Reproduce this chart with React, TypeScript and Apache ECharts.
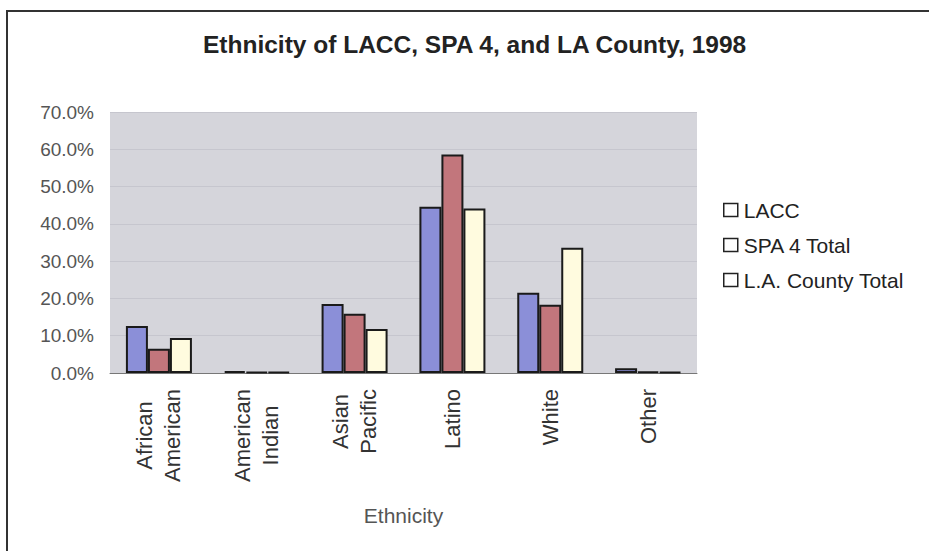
import React, { useEffect, useRef } from "react";
import * as echarts from "echarts";

const categories = ["African\nAmerican", "American\nIndian", "Asian\nPacific", "Latino", "White", "Other"];
const seriesNames = ["LACC", "SPA 4 Total", "L.A. County Total"];
const lacc = [12.6, 0.5, 18.5, 44.6, 21.5, 1.3];
const spa4 = [6.5, 0.3, 15.9, 58.6, 18.3, 0.4];
const laCounty = [9.4, 0.3, 11.8, 44.1, 33.6, 0.3];
const yTicks = { min: 0, max: 70, interval: 10 };

const colors = ["#8b8fd8", "#c2767c", "#fffbdf"];

export default function App() {
  const ref = useRef<HTMLDivElement>(null);
  useEffect(() => {
    if (!ref.current) return;
    const chart = echarts.init(ref.current, null, { renderer: "svg" });
    const font = "'Liberation Sans', Arial, sans-serif";
    const data = [lacc, spa4, laCounty];
    chart.setOption({
      animation: false,
      backgroundColor: "#ffffff",
      textStyle: { fontFamily: font },
      title: {
        text: "Ethnicity of LACC, SPA 4, and LA County, 1998",
        left: 198,
        top: 27,
        textStyle: { fontFamily: font, fontSize: 24.5, fontWeight: "bold", color: "#222" },
      },
      legend: {
        orient: "vertical",
        left: 718,
        top: 194,
        itemWidth: 14,
        itemHeight: 13,
        itemGap: 13,
        icon: "rect",
        textStyle: { fontFamily: font, fontSize: 21, color: "#222", lineHeight: 22, padding: [0, 0, 0, 1] },
        data: seriesNames.map((n) => ({
          name: n,
          itemStyle: { color: "#ffffff", borderColor: "#222", borderWidth: 1.5 },
        })),
      },
      grid: {
        left: 110,
        right: 232,
        top: 112,
        bottom: 178,
        show: true,
        backgroundColor: "#d5d5db",
        borderWidth: 0,
      },
      xAxis: {
        type: "category",
        data: categories,
        name: "Ethnicity",
        nameLocation: "middle",
        nameGap: 132,
        nameTextStyle: { fontFamily: font, fontSize: 21, color: "#555" },
        axisLine: { lineStyle: { color: "#777", width: 1 } },
        axisTick: { show: false },
        axisLabel: {
          rotate: 90,
          margin: 16,
          interval: 0,
          formatter: (v: string) => v.split("\n").map((s) => "{c|" + s + "}").join("\n"),
          rich: {
            c: { align: "center", fontFamily: font, fontSize: 22, lineHeight: 28, color: "#333" },
          },
        },
      },
      yAxis: {
        type: "value",
        min: yTicks.min,
        max: yTicks.max,
        interval: yTicks.interval,
        axisLine: { show: false },
        axisTick: { show: false },
        splitLine: { lineStyle: { color: "#c6c6ce", width: 1 } },
        axisLabel: {
          margin: 16,
          fontFamily: font,
          fontSize: 19,
          color: "#555",
          formatter: (v: number) => v.toFixed(1) + "%",
        },
      },
      graphic: [
        { type: "line", shape: { x1: 6, y1: 11, x2: 929, y2: 11 }, style: { stroke: "#333", lineWidth: 2 } },
        { type: "line", shape: { x1: 7, y1: 11, x2: 7, y2: 551 }, style: { stroke: "#333", lineWidth: 2 } },
      ],
      series: seriesNames.map((n, i) => ({
        name: n,
        type: "bar",
        data: data[i],
        barWidth: 22,
        barGap: "0%",
        itemStyle: { color: colors[i], borderColor: "#1a1a1a", borderWidth: 2 },
      })),
    });
    return () => chart.dispose();
  }, []);
  return <div ref={ref} style={{ position: "fixed", left: 0, top: 0, width: 929, height: 551 }} />;
}
